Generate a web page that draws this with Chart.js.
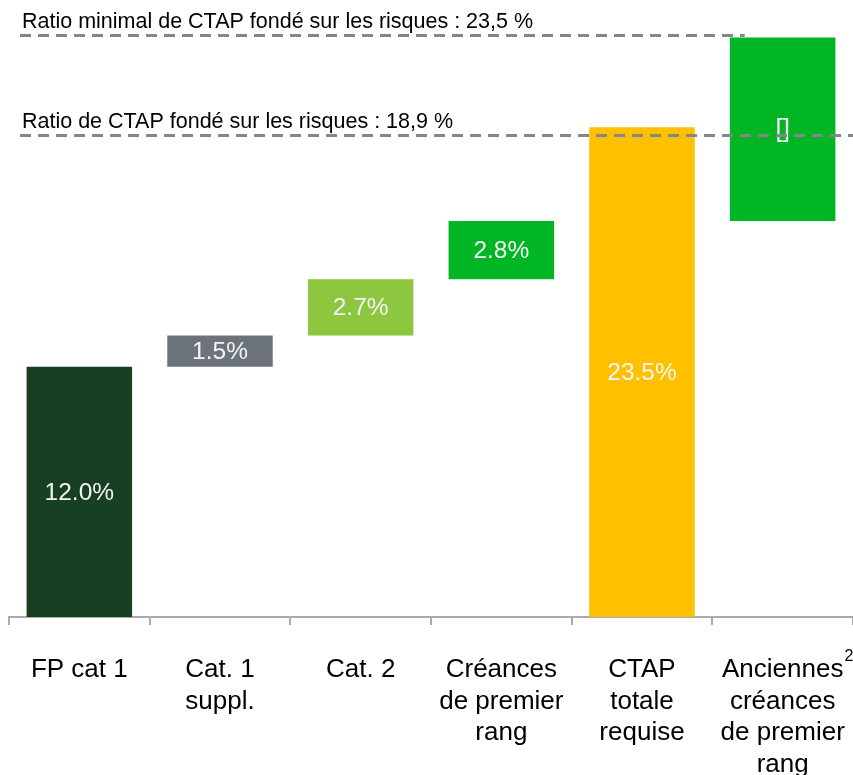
<!DOCTYPE html>
<html>
<head>
<meta charset="utf-8">
<script src="https://cdn.jsdelivr.net/npm/chart.js@4.4.1/dist/chart.umd.min.js"></script>
<style>
  html, body { margin: 0; padding: 0; background: #fff; }
  #wrap { width: 853px; height: 775px; position: relative; }
</style>
</head>
<body>
<div id="wrap"><canvas id="capitalChart"></canvas></div>
<script>
// categories (multi-line labels)
const categories = [
  ['FP cat 1'],
  ['Cat. 1', 'suppl.'],
  ['Cat. 2'],
  ['Créances', 'de premier', 'rang'],
  ['CTAP', 'totale', 'requise'],
  ['Anciennes', 'créances', 'de premier', 'rang']
];
// floating bars: start / end, in %
const barStart = [0, 12.0, 13.5, 16.2, 0, 19.0];
const barEnd = [12.0, 13.5, 16.2, 19.0, 23.5, 27.8];
const barLabels = ['12.0%', '1.5%', '2.7%', '2.8%', '23.5%', '[]'];
const barColors = ['#173f22', '#6c737b', '#8dc63f', '#00b624', '#ffc000', '#00b624'];
// dashed reference lines
const refTexts = ['Ratio minimal de CTAP fondé sur les risques : 23,5 %', 'Ratio de CTAP fondé sur les risques : 18,9 %'];
const refValues = [27.9, 23.1];
const refEnds = [4.73, 5.5]; // in category units

const FONT = 'Arial, "Liberation Sans", sans-serif';

const overlay = {
  id: 'overlay',
  afterDatasetsDraw(chart) {
    const ctx = chart.ctx;
    const xs = chart.scales.x, ys = chart.scales.y;
    const meta = chart.getDatasetMeta(0);
    ctx.save();
    // labels inside bars
    ctx.fillStyle = '#f4f4f4';
    ctx.textAlign = 'center';
    ctx.textBaseline = 'middle';
    meta.data.forEach(function(bar, i) {
      ctx.font = (i === 5 ? '26px ' : '24.5px ') + FONT;
      ctx.fillText(barLabels[i], bar.x, (bar.y + bar.base) / 2 + 1);
    });
    // dashed lines + texts
    refValues.forEach(function(v, i) {
      const y = ys.getPixelForValue(v);
      ctx.strokeStyle = '#868686';
      ctx.lineWidth = 3;
      ctx.setLineDash([11, 7]);
      ctx.beginPath();
      ctx.moveTo(20, y);
      ctx.lineTo(Math.min(xs.getPixelForValue(refEnds[i]), 853), y);
      ctx.stroke();
      ctx.setLineDash([]);
      ctx.fillStyle = '#000';
      ctx.font = '21.5px ' + FONT;
      ctx.textAlign = 'left';
      ctx.textBaseline = 'alphabetic';
      ctx.fillText(refTexts[i], 22, y - 7);
    });
    // superscript after "Anciennes"
    ctx.font = '26px ' + FONT;
    const w = ctx.measureText(categories[5][0]).width;
    ctx.font = '16px ' + FONT;
    ctx.fillStyle = '#000';
    ctx.textAlign = 'left';
    ctx.fillText('2', xs.getPixelForValue(5) + w / 2 + 1, 661);
    ctx.restore();
  }
};

new Chart(document.getElementById('capitalChart').getContext('2d'), {
  type: 'bar',
  data: {
    labels: categories,
    datasets: [{
      data: barStart.map(function(s, i) { return [s, barEnd[i]]; }),
      backgroundColor: barColors,
      borderWidth: 0,
      borderSkipped: false,
      barPercentage: 0.75,
      categoryPercentage: 1.0
    }]
  },
  options: {
    responsive: true,
    maintainAspectRatio: false,
    animation: false,
    layout: { padding: { left: 9, right: 0, top: 0, bottom: 0 } },
    plugins: { legend: { display: false }, tooltip: { enabled: false } },
    scales: {
      x: {
        grid: { drawOnChartArea: false, drawTicks: true, tickLength: 8, color: '#a7aaae', lineWidth: 2 },
        border: { display: true, color: '#a7aaae', width: 2 },
        ticks: { color: '#000', font: { family: FONT, size: 26, lineHeight: 1.22 }, padding: 29, maxRotation: 0, autoSkip: false },
        afterFit: function(scale) {
          scale.height = 158;
          scale.paddingLeft = 0;
          scale.paddingRight = 0;
        }
      },
      y: { display: false, min: 0, max: 29.6 }
    }
  },
  plugins: [overlay]
});
</script>
</body>
</html>
